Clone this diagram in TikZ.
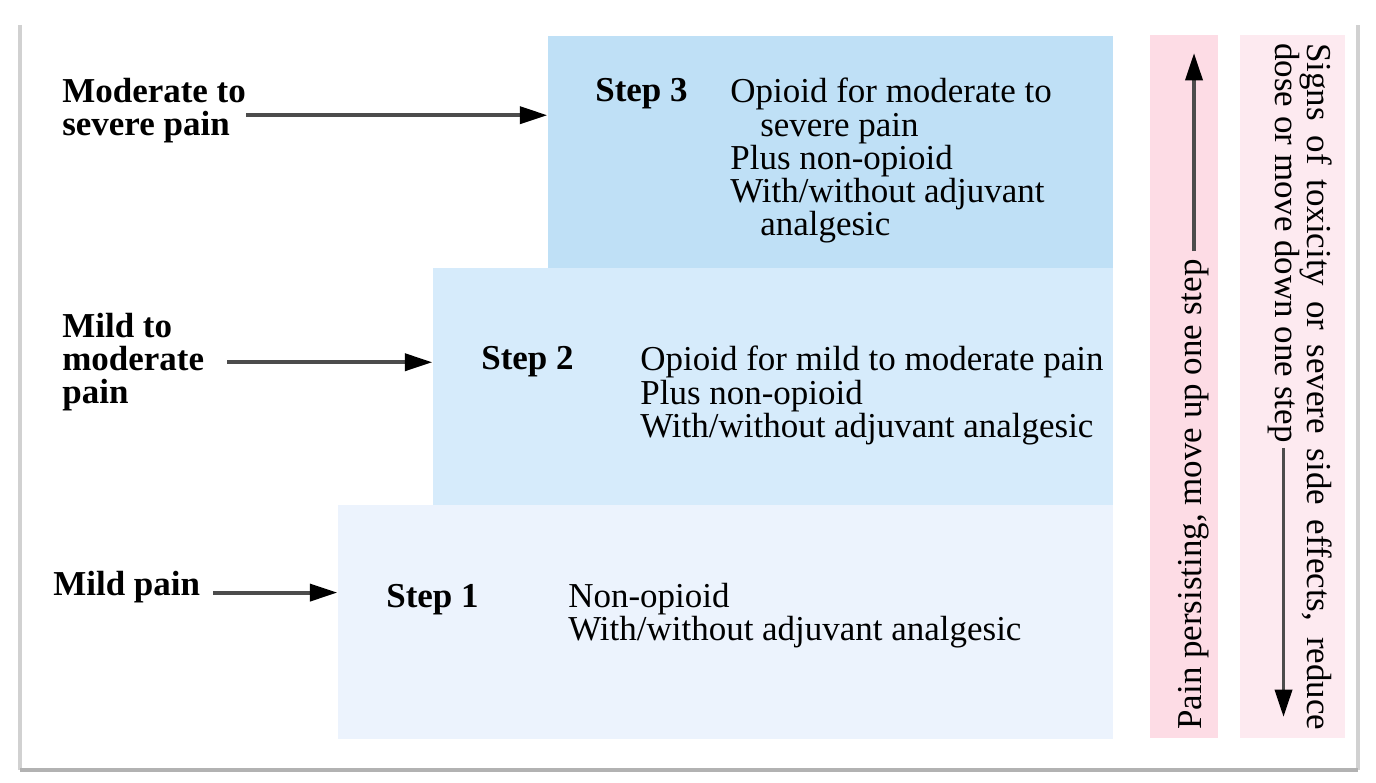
\documentclass[tikz,border=0pt]{standalone}
\usepackage{fontspec}
\setmainfont{Liberation Serif}
\usetikzlibrary{arrows.meta}
\definecolor{stepthree}{RGB}{191,224,246}
\definecolor{steptwo}{RGB}{214,235,251}
\definecolor{stepone}{RGB}{236,243,253}
\definecolor{barup}{RGB}{253,220,229}
\definecolor{bardown}{RGB}{253,234,240}
\newcommand{\ladderfont}{\fontsize{19.9pt}{18.8pt}\selectfont}
\begin{document}
\begin{tikzpicture}[
    font=\ladderfont,
    stepbox/.style={inner sep=0pt, anchor=north east},
    bar/.style={inner sep=0pt, minimum height=14.06cm, anchor=north west},
    painlabel/.style={font=\ladderfont\bfseries, align=left, inner sep=0pt},
    steptext/.style={align=left, inner sep=0pt, anchor=north west},
    pointer/.style={line width=2.2pt, black!70, -{Triangle[length=5.5mm,width=3.4mm,black]}}
]
    \useasboundingbox (0,0) rectangle (27.52,15.64);
    \draw[black!18,line width=2.2pt] (0.4,15.14) -- (0.4,0.24)  (27.16,0.24) -- (27.16,15.14);
    \draw[black!30,line width=2.2pt] (0.4,0.24) -- (27.16,0.24);

    \node[stepbox, fill=stepthree, minimum width=11.3cm, minimum height=4.64cm] (box3) at (22.26,14.92) {};
    \node[stepbox, fill=steptwo, minimum width=13.6cm, minimum height=4.74cm] (box2) at (22.26,10.28) {};
    \node[stepbox, fill=stepone, minimum width=15.5cm, minimum height=4.68cm] (box1) at (22.26,5.54) {};
    \node[bar, fill=barup, minimum width=1.36cm] (upbar) at (23,14.94) {};
    \node[bar, fill=bardown, minimum width=2.1cm] (downbar) at (24.8,14.94) {};

    % pain levels
    \node[painlabel, anchor=north west] (lab3) at (1.24,14.08) {Moderate to\\severe pain};
    \node[painlabel, anchor=north west] (lab2) at (1.24,9.38) {Mild to\\moderate\\pain};
    \node[painlabel, anchor=base west] (lab1) at (1.06,3.74) {Mild pain};
    \draw[pointer] ([yshift=-0.9mm]lab3.east) coordinate (from3) -- (from3 -| box3.west);
    \draw[pointer] ([xshift=4.6mm]lab2.east) coordinate (from2) -- (from2 -| box2.west);
    \draw[pointer] ([xshift=2.6mm,yshift=-1.2mm]lab1.east) coordinate (from1) -- (from1 -| box1.west);

    % steps
    \node[painlabel, anchor=base west] (s3) at (11.9,13.6) {Step 3};
    \node[painlabel, anchor=base west] (s2) at (9.62,8.24) {Step 2};
    \node[painlabel, anchor=base west] (s1) at (7.72,3.5) {Step 1};
    \node[steptext] (t3) at (14.6,14.08) {Opioid for moderate to\\\hspace*{0.6cm}severe pain\\Plus non-opioid\\With/without adjuvant\\\hspace*{0.6cm}analgesic};
    \node[steptext] (t2) at (12.8,8.72) {Opioid for mild to moderate pain\\Plus non-opioid\\With/without adjuvant analgesic};
    \node[steptext] (t1) at (11.36,3.98) {Non-opioid\\With/without adjuvant analgesic};

    % side bars
    \node[rotate=90, anchor=west, inner sep=0pt] (persist) at (23.88,1.04) {Pain persisting, move up one step};
    \coordinate (uptip) at (23.86,14.58);
    \draw[pointer] ([yshift=1.6mm]persist.east) -- (persist.east |- uptip);
    \node[rotate=-90, anchor=west, inner sep=0pt] (sig1) at (26.33,14.78) {\makebox[13.74cm][s]{Signs of toxicity or severe side effects, reduce}};
    \node[rotate=-90, anchor=west, inner sep=0pt] (sig2) at (25.67,14.78) {dose or move down one step};
    \coordinate (downtip) at (25.64,1.3);
    \draw[pointer] ([yshift=-1mm]sig2.east) -- (sig2.east |- downtip);
\end{tikzpicture}
\end{document}
